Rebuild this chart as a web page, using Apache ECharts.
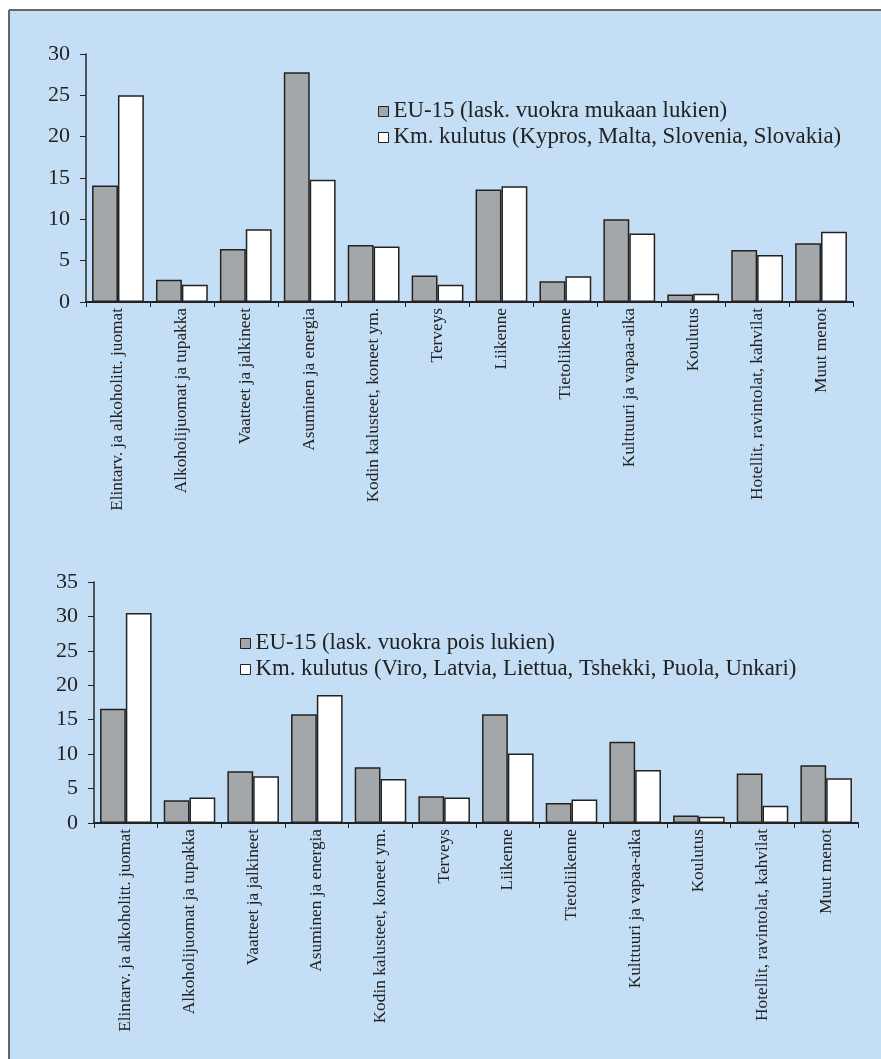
<!DOCTYPE html>
<html>
<head>
<meta charset="utf-8">
<script src="https://cdn.jsdelivr.net/npm/echarts@6/dist/echarts.min.js"></script>
<style>
  html, body { margin: 0; padding: 0; background: #fff; }
  #chart { width: 881px; height: 1059px; }
</style>
</head>
<body>
<div id="chart"></div>
<script>
// kulutusluokat (sama molemmissa kuvioissa)
const categories = [
  'Elintarv. ja alkoholitt. juomat',
  'Alkoholijuomat ja tupakka',
  'Vaatteet ja jalkineet',
  'Asuminen ja energia',
  'Kodin kalusteet, koneet ym.',
  'Terveys',
  'Liikenne',
  'Tietoliikenne',
  'Kulttuuri ja vapaa-aika',
  'Koulutus',
  'Hotellit, ravintolat, kahvilat',
  'Muut menot'
]

// ylempi kuvio
const topNames = ['EU-15 (lask. vuokra mukaan lukien)', 'Km. kulutus (Kypros, Malta, Slovenia, Slovakia)']
const topEu = [14.1, 2.7, 6.4, 27.8, 6.9, 3.2, 13.6, 2.5, 10.0, 0.9, 6.3, 7.1]
const topKm = [25.0, 2.1, 8.8, 14.8, 6.7, 2.1, 14.0, 3.1, 8.3, 1.0, 5.7, 8.5]

// alempi kuvio
const bottomNames = ['EU-15 (lask. vuokra pois lukien)', 'Km. kulutus (Viro, Latvia, Liettua, Tshekki, Puola, Unkari)']
const bottomEu = [16.6, 3.3, 7.5, 15.8, 8.1, 3.9, 15.8, 2.9, 11.8, 1.1, 7.2, 8.4]
const bottomKm = [30.5, 3.7, 6.8, 18.6, 6.4, 3.7, 10.1, 3.4, 7.7, 0.9, 2.5, 6.5]

const serif = '"Liberation Serif", "DejaVu Serif", serif'
const ink = '#222'
const grayFill = '#a4a7aa'

const chart = echarts.init(document.getElementById('chart'))

function xAxisFor (gridIndex) {
  return {
    type: 'category',
    gridIndex: gridIndex,
    data: categories,
    boundaryGap: true,
    axisLine: { show: true, lineStyle: { color: ink, width: 2 } },
    axisTick: { show: true, alignWithLabel: false, length: 5, lineStyle: { color: ink, width: 1 } },
    axisLabel: {
      rotate: 90,
      interval: 0,
      margin: 6,
      color: ink,
      fontFamily: serif,
      fontSize: 17.3
    },
    splitLine: { show: false }
  }
}

function yAxisFor (gridIndex, max) {
  return {
    type: 'value',
    gridIndex: gridIndex,
    min: 0,
    max: max,
    interval: 5,
    axisLine: { show: true, lineStyle: { color: ink, width: 1.5 } },
    axisTick: { show: true, length: 6, lineStyle: { color: ink, width: 1 } },
    axisLabel: { color: ink, fontFamily: serif, fontSize: 22, margin: 16 },
    splitLine: { show: false }
  }
}

function barSeries (name, data, idx, fill) {
  return {
    type: 'bar',
    name: name,
    xAxisIndex: idx,
    yAxisIndex: idx,
    data: data,
    barGap: '0%',
    barCategoryGap: '19%',
    itemStyle: { color: fill, borderColor: ink, borderWidth: 1.5 },
    emphasis: { disabled: true }
  }
}

function legendFor (names, left, top) {
  return {
    orient: 'vertical',
    left: left,
    top: top,
    padding: 0,
    itemWidth: 10,
    itemHeight: 10,
    itemGap: 3,
    icon: 'rect',
    selectedMode: false,
    textStyle: { color: ink, fontFamily: serif, fontSize: 22.8 },
    data: [
      { name: names[0], itemStyle: { color: grayFill, borderColor: ink, borderWidth: 1 } },
      { name: names[1], itemStyle: { color: '#fff', borderColor: ink, borderWidth: 1 } }
    ]
  }
}

chart.setOption({
  backgroundColor: '#fff',
  animation: false,
  graphic: [
    { type: 'rect', z: -10, shape: { x: 9, y: 10, width: 872, height: 1049 }, style: { fill: '#c4dff5', stroke: 'none' } },
    { type: 'line', z: -9, shape: { x1: 9, y1: 10, x2: 881, y2: 10 }, style: { stroke: '#666', lineWidth: 2 } },
    { type: 'line', z: -9, shape: { x1: 9, y1: 10, x2: 9, y2: 1059 }, style: { stroke: '#666', lineWidth: 2 } }
  ],
  legend: [
    legendFor(topNames, 378, 100),
    legendFor(bottomNames, 240, 632)
  ],
  grid: [
    { left: 86, top: 54, width: 767, height: 248 },
    { left: 94, top: 582, width: 764, height: 241 }
  ],
  xAxis: [xAxisFor(0), xAxisFor(1)],
  yAxis: [yAxisFor(0, 30), yAxisFor(1, 35)],
  series: [
    barSeries(topNames[0], topEu, 0, grayFill),
    barSeries(topNames[1], topKm, 0, '#fff'),
    barSeries(bottomNames[0], bottomEu, 1, grayFill),
    barSeries(bottomNames[1], bottomKm, 1, '#fff')
  ]
})
</script>
</body>
</html>
